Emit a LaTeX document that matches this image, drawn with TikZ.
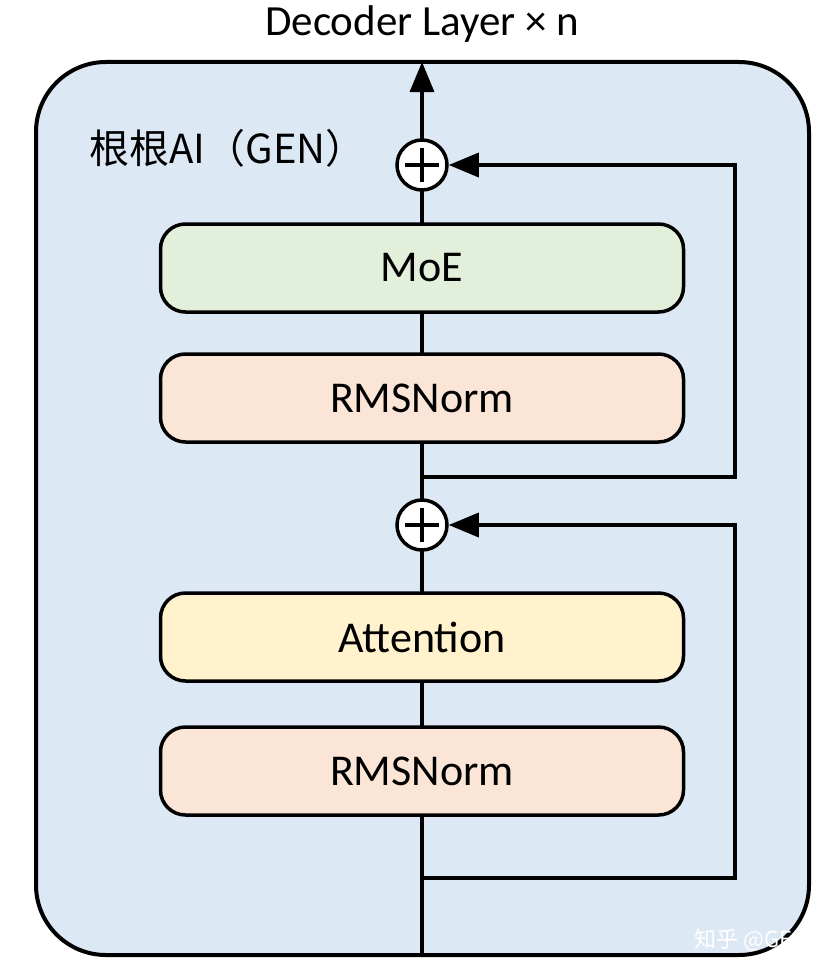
\documentclass[tikz,border=0pt]{standalone}
\usepackage{fontspec}
\setmainfont{Carlito}
\newfontfamily\cjk{Noto Sans CJK SC}
\usetikzlibrary{arrows.meta}
\begin{document}
\begin{tikzpicture}[x=1pt,y=-1pt,
  box/.style={draw,line width=3.5pt,rounded corners=25pt,minimum width=523pt,minimum height=88pt,font=\fontsize{44}{46}\selectfont},
  pl/.style={draw,line width=3.5pt,circle,fill=white,minimum size=50pt,inner sep=0pt},
  ln/.style={line width=3.5pt},
  ar/.style={line width=3.5pt,-{Triangle[length=30pt,width=24pt]}}]
\useasboundingbox (0,0) rectangle (831,974);
\definecolor{bg}{HTML}{DDE8F5}
\definecolor{moe}{HTML}{E2EFDA}
\definecolor{rms}{HTML}{FBE5D6}
\definecolor{att}{HTML}{FFF2CC}
\node[font=\fontsize{43}{45}\selectfont] (title) at (422,24) {Decoder Layer × n};
\draw[line width=4pt,fill=bg,rounded corners=70pt] (36,62) rectangle (809,955);
\coordinate (bot) at (422,955);
\coordinate (top) at (422,62);
\coordinate (r1) at (422,477);
\coordinate (r2) at (422,878);
\coordinate (c1) at (735,477);
\coordinate (c2) at (735,165);
\coordinate (d1) at (735,878);
\coordinate (d2) at (735,525);
\draw[ln] (bot) -- (422,525);
\draw[ln] (422,525) -- (422,165);
\draw[ar] (422,165) -- (top);
\node[box,fill=moe] (moe) at (422,268) {MoE};
\node[box,fill=rms] (rms1) at (422,398) {RMSNorm};
\node[box,fill=att] (att) at (422,637) {Attention};
\node[box,fill=rms] (rms2) at (422,771) {RMSNorm};
\node[pl] (p1) at (422,165) {};
\node[pl] (p2) at (422,525) {};
\draw[ln] ([yshift=-17pt]p1.center)--([yshift=17pt]p1.center) ([xshift=-17pt]p1.center)--([xshift=17pt]p1.center);
\draw[ln] ([yshift=-17pt]p2.center)--([yshift=17pt]p2.center) ([xshift=-17pt]p2.center)--([xshift=17pt]p2.center);
\draw[ar] (r1) -- (c1) -- (c2) -- (p1.east);
\draw[ar] (r2) -- (d1) -- (d2) -- (p2.east);
\node[anchor=west,font=\cjk\fontsize{40}{42}\selectfont] (lab) at (86,148) {根根AI（GEN）};
\node[anchor=east,text=white,font=\cjk\fontsize{22}{24}\selectfont] (wm) at (812,940) {知乎 @GEN};
\end{tikzpicture}
\end{document}
